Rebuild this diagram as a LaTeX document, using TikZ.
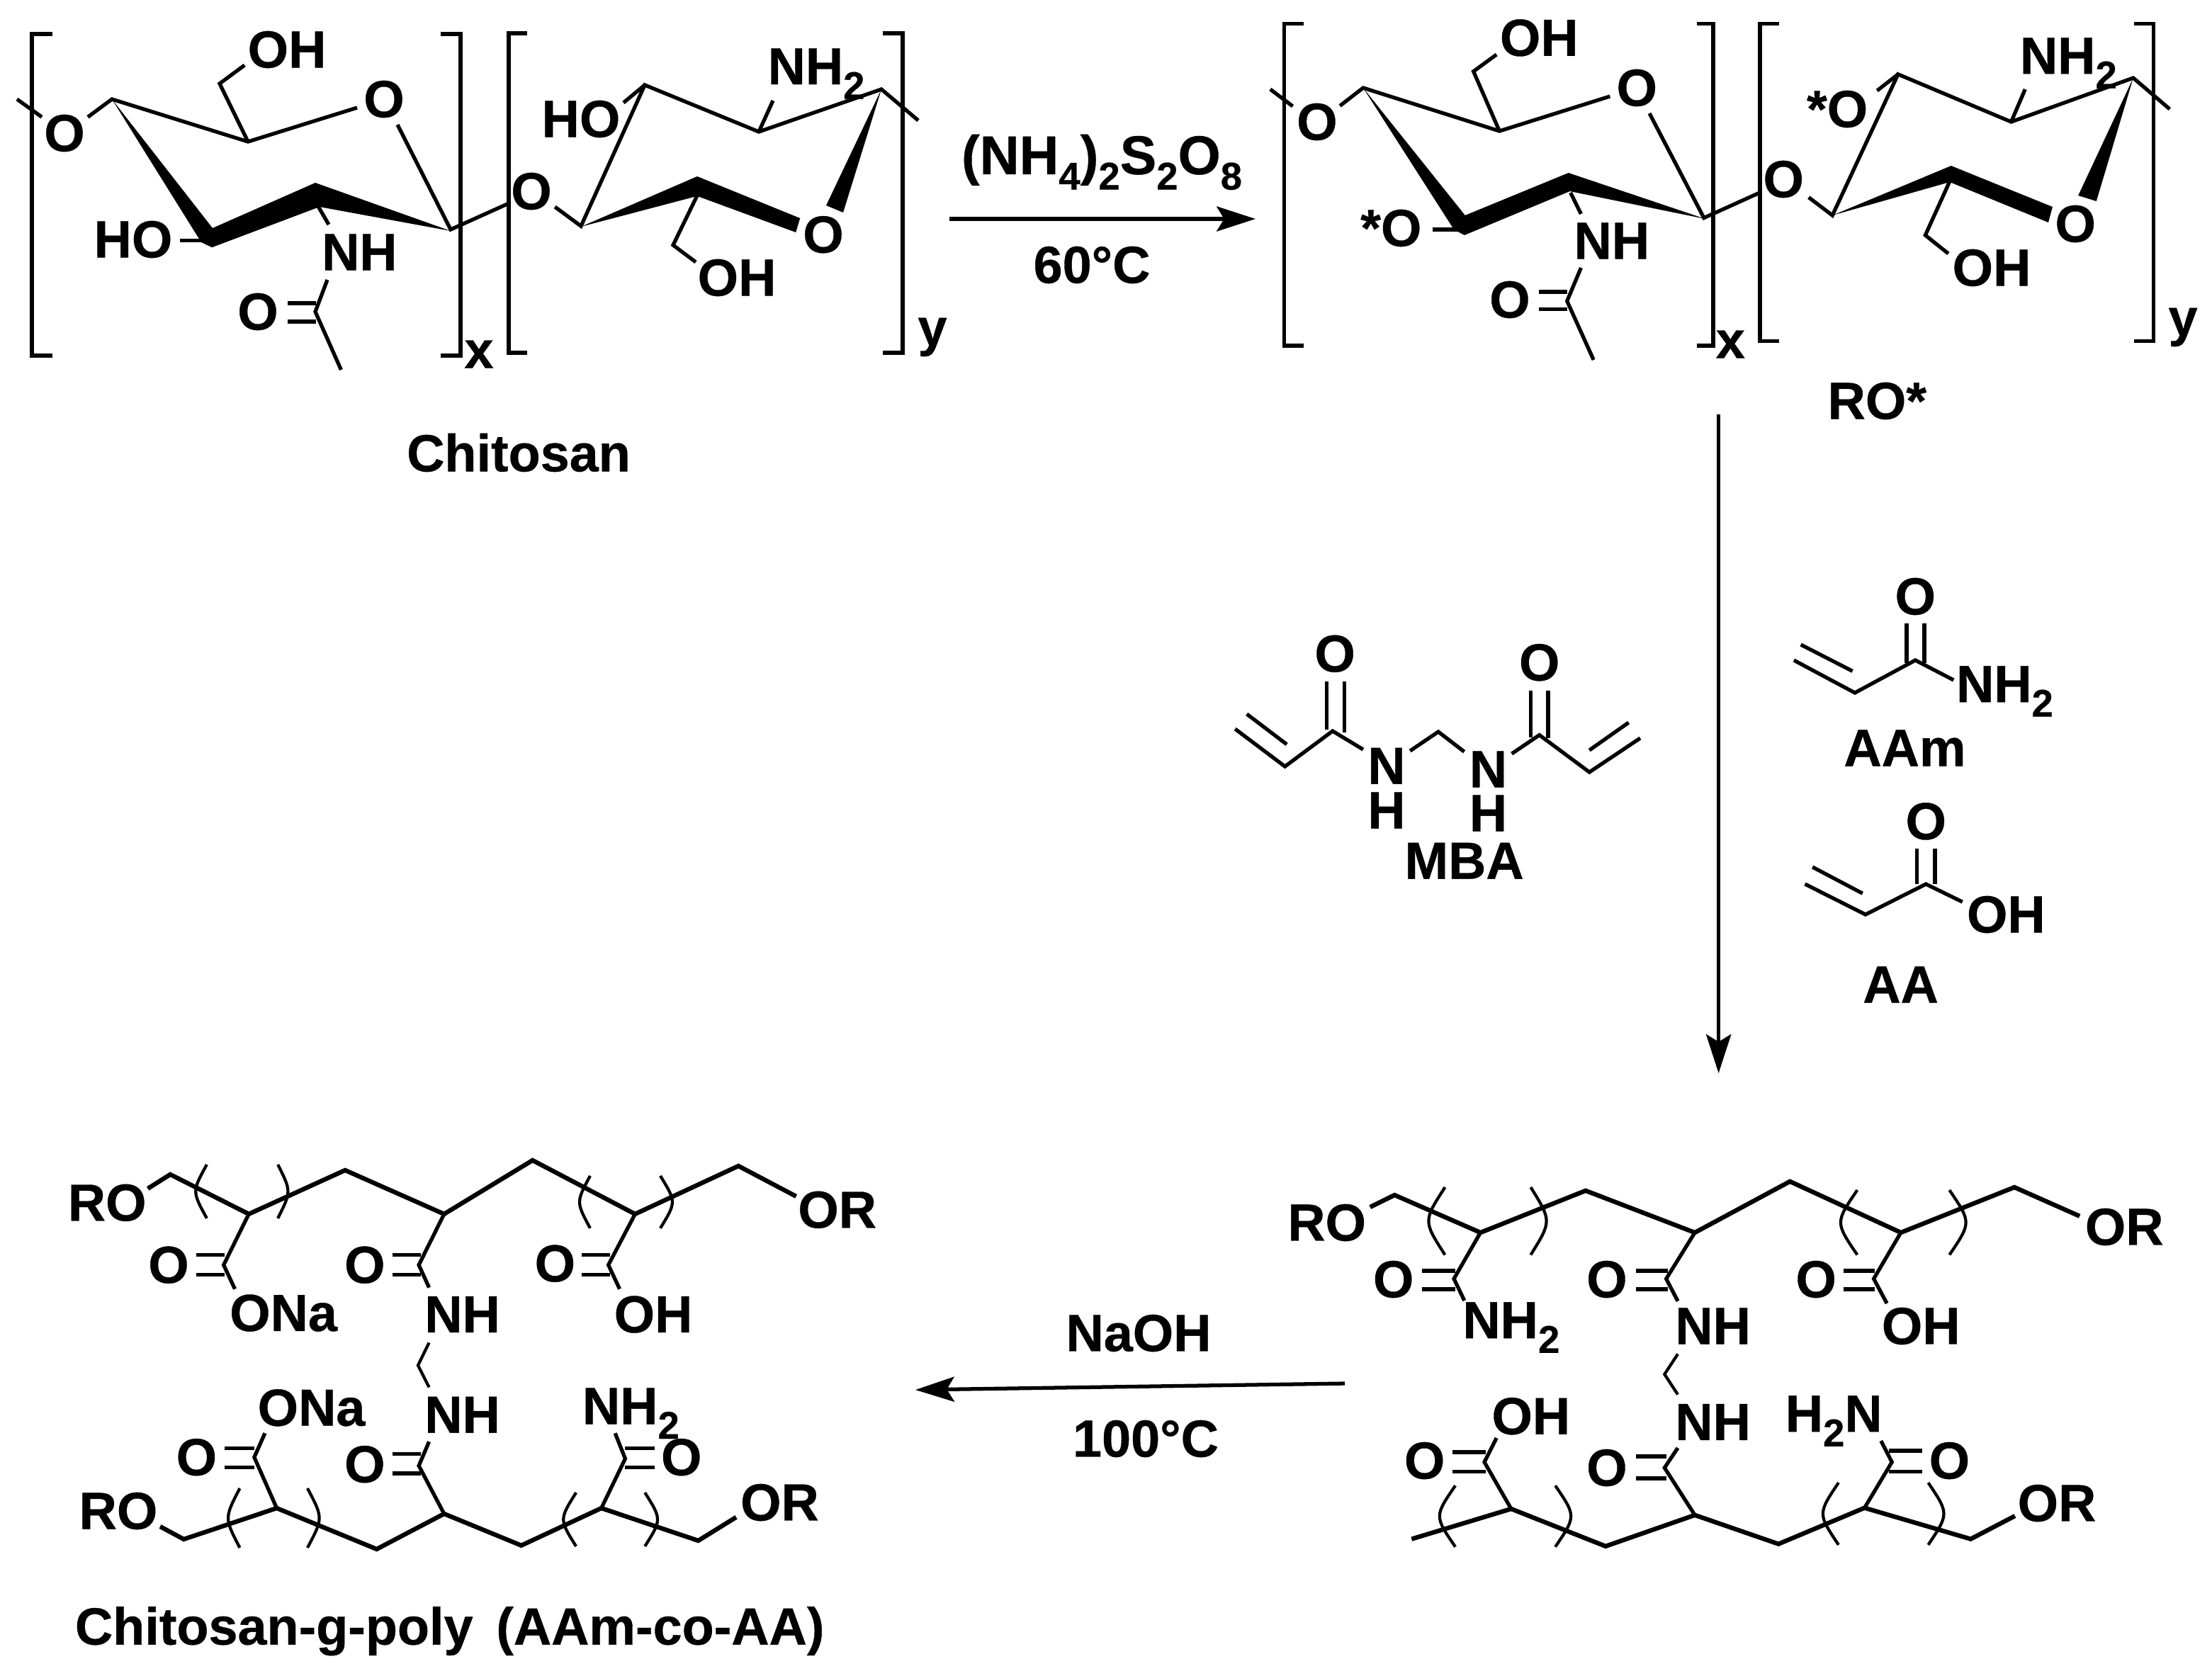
\documentclass[tikz,border=0pt]{standalone}
\usepackage{fontspec}
\setmainfont{Liberation Sans}[BoldFeatures={FakeBold=0.5}]
\usetikzlibrary{arrows.meta}
\newcommand{\sbs}[1]{\raisebox{-0.28em}{\fontsize{15.5}{15.5}\selectfont #1}}
\tikzset{
  atom/.style={inner sep=0pt,font=\fontsize{21}{23}\selectfont\bfseries},
  bond/.style={line width=1.5pt,line join=miter},
  chain/.style={line width=1.8pt,line join=miter},
  thin bond/.style={line width=1.2pt},
  brk/.style={line width=1.6pt,line join=miter},
  wedge/.style={fill=black,draw=none},
  rxn/.style={line width=1.5pt,-{Stealth[length=15.6pt,width=10pt,inset=3pt]}},
}
\newcommand{\prn}[4]{\draw[thin bond] (#1,#2) .. controls (#3,{(#2+#4)/2}) .. (#1,#4);}
\begin{document}
\begin{tikzpicture}[x=0.02cm,y=-0.02cm]
\useasboundingbox (0,0) rectangle (1561,1182.5);
\fill[white] (0,0) rectangle (1561,1182.5);
%% ---------- Chitosan
\draw[brk] (37,24)--(22.5,24)--(22.5,251)--(37,251);
\draw[brk] (311,24)--(325,24)--(325,251)--(311,251);
\draw[brk] (372,23.5)--(359,23.5)--(359,249)--(372,249);
\draw[brk] (623,23.5)--(637,23.5)--(637,249)--(623,249);
\node[atom] (cx) at (338,250) {x};
\node[atom] (cy) at (658,238) {y};
\draw[bond] (12,70)--(29.5,82.6);
\node[atom] (cO1) at (45.5,94) {O};
\draw[bond] (62,82.6)--(79,70)--(175,100)--(252,76);
\node[atom] (cOr) at (271,70) {O};
\draw[bond] (280.5,88)--(318,162)--(358,144);
\draw[wedge] (79,70)--(150,161)--(222.5,129)--(318,163)--(225.5,146)--(149.6,174.6)--(142,171)--cycle;
\draw[bond] (175,100)--(155,59)--(172.6,46);
\node[atom] (cOH1) at (202.5,35) {OH};
\node[atom] (cHO1) at (94,169) {HO};
\draw[bond] (127,169.6)--(147.4,169.6);
\draw[bond] (223,143)--(232,158.5);
\node[atom] (cNH) at (253.7,178) {NH};
\draw[bond] (231,197.5)--(222.5,220)--(240.7,261);
\draw[bond] (203,214)--(223,214) (203,227)--(223,227);
\node[atom] (cO3) at (182,220) {O};
\node[atom] (cO2) at (375,135) {O};
\draw[bond] (391.6,146)--(410,159.6)--(455,60)--(535.5,93)--(622,63)--(648,85);
\node[atom] (cHO2) at (410,84) {HO};
\draw[bond] (440,72.5)--(455,60);
\draw[bond] (535.5,93)--(545.5,71);
\node[atom] (cNH2) at (576,52) {NH\sbs{2}};
\draw[wedge] (622,63)--(595,150)--(583,145)--cycle;
\node[atom] (cO4) at (581,165.6) {O};
\draw[wedge] (410,160)--(492,124.5)--(564.6,154)--(561.6,164)--(492,138.4)--cycle;
\draw[bond] (492,138)--(475,173)--(491,185);
\node[atom] (cOH2) at (520,196) {OH};
\node[atom] (chit) at (366,319.5) {Chitosan};
%% ---------- RO* and right polymer
\begin{scope}[shift={(12.82,0)},xscale=0.9856]
\draw[brk] (920.4,16.8)--(906.5,16.8)--(906.5,244)--(920.4,244);
\draw[brk] (1201.8,16.8)--(1213.5,16.8)--(1213.5,244)--(1201.8,244);
\draw[brk] (1261,16.8)--(1247,16.8)--(1247,240.7)--(1261,240.7);
\draw[brk] (1515,16.8)--(1529,16.8)--(1529,240.7)--(1515,240.7);
\node[atom] (rx) at (1226,243) {x};
\node[atom] (ry) at (1550,231) {y};
\draw[bond] (896.5,63)--(912.6,75);
\node[atom] (rO1) at (930,86) {O};
\draw[bond] (946.4,74.7)--(963,62)--(1060.6,92.5)--(1139.7,68);
\node[atom] (rOr) at (1159,62) {O};
\draw[bond] (1168,80)--(1207,153.8)--(1246,136.4);
\draw[wedge] (963,62)--(1036,152)--(1110,122)--(1208,154.5)--(1111,135)--(1035.5,166)--(1028,162)--cycle;
\draw[bond] (1060.6,92.5)--(1042,50.4)--(1058.5,38.5);
\node[atom] (rOH1) at (1089,26.7) {OH};
\node[atom] (rsO1) at (983,161) {*O};
\draw[bond] (1013,162)--(1033,162);
\draw[bond] (1111.5,136)--(1119,151);
\node[atom] (rNH) at (1141,170) {NH};
\draw[bond] (1119,189)--(1109,212.5)--(1128,254);
\draw[bond] (1089,206)--(1109,206) (1089,218.4)--(1109,218.4);
\node[atom] (rO3) at (1068,211.5) {O};
\node[atom] (rO2) at (1264,126.5) {O};
\draw[bond] (1282,139.3)--(1299,152)--(1346,52.4)--(1427,86)--(1514.4,55)--(1540.5,77);
\node[atom] (rsO2) at (1302.5,77) {*O};
\draw[bond] (1331,64)--(1346,52.4);
\draw[bond] (1427,86)--(1437,63);
\node[atom] (rNH2) at (1468,44.5) {NH\sbs{2}};
\draw[wedge] (1514.4,55)--(1488,142)--(1475,138)--cycle;
\node[atom] (rO4) at (1473,158) {O};
\draw[wedge] (1299,152)--(1384,117)--(1456.6,146)--(1453.6,157)--(1383,128.5)--cycle;
\draw[bond] (1383,128)--(1365.5,166)--(1382,179);
\node[atom] (rOH2) at (1413,189) {OH};
\node[atom] (ro) at (1331,283) {RO*};
%% ---------- Right polymer
\draw[chain] (968,852)--(985.5,843.5)--(1047,870)--(1122.3,840.4)--(1200.5,870)--(1268.6,833.9)--(1348,870)--(1429.3,838)--(1476,858.4);
\node[atom] (pRO1) at (937,863) {RO};
\node[atom] (pOR1) at (1508,866) {OR};
\prn{1021.6}{838}{1006}{885.7}
\prn{1083}{838}{1098}{885.7}
\prn{1316.8}{840}{1301}{885.7}
\prn{1382.8}{840}{1398.5}{885.7}
\draw[bond] (1047,870)--(1028,902.6)--(1035.5,918);
\draw[bond] (1005,897)--(1029,897) (1005,910)--(1029,910);
\node[atom] (pO1) at (984.7,903) {O};
\node[atom] (pNH2a) at (1069,937) {NH\sbs{2}};
\draw[bond] (1200.5,870)--(1180,902.6)--(1188.3,918.4);
\draw[bond] (1158.3,897)--(1181,897) (1158.3,910)--(1181,910);
\node[atom] (pO2) at (1137.5,903) {O};
\node[atom] (pNH1) at (1213.5,936) {NH};
\draw[bond] (1348,870)--(1328.6,902.6)--(1338,920);
\draw[bond] (1306.8,897)--(1329.4,897) (1306.8,910)--(1329.4,910);
\node[atom] (pO3) at (1287.3,903) {O};
\node[atom] (pOH1) at (1362.4,936) {OH};
\draw[thin bond] (1188.3,955.7)--(1178.8,970)--(1188.3,984.3);
\node[atom] (pNH3) at (1213.5,1003.7) {NH};
\node[atom] (pH2N) at (1300,1003) {H\sbs{2}N};
\node[atom] (pOH2) at (1083.2,999.6) {OH};
\draw[chain] (997.7,1086.3)--(1069,1065)--(1136.6,1091.4)--(1200.5,1069.4)--(1260.4,1089.8)--(1322,1064.3)--(1398,1086.3)--(1429.7,1070);
\node[atom] (pOR2) at (1459.7,1061) {OR};
\prn{1029}{1048.6}{1014}{1091.8}
\prn{1100.6}{1048.6}{1115.5}{1091.8}
\prn{1303.4}{1046.5}{1288.5}{1090.4}
\prn{1367.6}{1046.5}{1382.5}{1090.4}
\draw[bond] (1069,1065)--(1049.8,1032)--(1058.5,1015);
\draw[bond] (1026.8,1025)--(1050.7,1025) (1026.8,1038.8)--(1050.7,1038.8);
\node[atom] (pO4) at (1007,1031) {O};
\draw[bond] (1200.5,1069.4)--(1178.8,1036)--(1188.3,1022);
\draw[bond] (1158.3,1028)--(1180,1028) (1158.3,1043.5)--(1180,1043.5);
\node[atom] (pO5) at (1137.5,1036) {O};
\draw[bond] (1322,1064.3)--(1341.6,1032)--(1333.8,1017);
\draw[bond] (1339.4,1024)--(1363.3,1024) (1339.4,1038.8)--(1363.3,1038.8);
\node[atom] (pO6) at (1382.8,1031) {O};
\end{scope}
%% ---------- Monomers
\begin{scope}[shift={(12.33,0)},xscale=0.9855]
\draw[bond] (871.9,514.5)--(907.6,541)--(941.7,516)--(963.6,529);
\draw[bond] (880.3,504)--(908.9,525.4);
\draw[bond] (937.5,481)--(937.5,515) (950.1,481)--(950.1,517);
\node[atom] (mO1) at (943.4,461.4) {O};
\node[atom] (mN1) at (980.4,540.6) {N};
\node[atom] (mH1) at (980.4,572) {H};
\draw[bond] (997.2,530)--(1017.4,516.5)--(1036,530.6);
\node[atom] (mN2) at (1053.2,543) {N};
\node[atom] (mH2) at (1053.2,574) {H};
\draw[bond] (1070,532)--(1089.8,518.8)--(1125.6,545)--(1162,521);
\draw[bond] (1125.6,529.5)--(1153.7,510);
\draw[bond] (1083.5,487.5)--(1083.5,520.5) (1096,487.5)--(1096,521);
\node[atom] (mO2) at (1089.8,467.6) {O};
\node[atom] (mba) at (1036,607.6) {MBA};
\draw[bond] (1272,466)--(1315.7,489)--(1359,466)--(1386.4,480);
\draw[bond] (1277,455)--(1314,473.7);
\draw[bond] (1352.7,440)--(1352.7,468) (1365.4,440)--(1365.4,468);
\node[atom] (aO) at (1359,421) {O};
\node[atom] (aNH2) at (1423,488) {NH\sbs{2}};
\node[atom] (aam) at (1351.5,528) {AAm};
\draw[bond] (1280,624)--(1323.3,645.5)--(1366.6,624)--(1392.7,636.6);
\draw[bond] (1285.4,612)--(1321.2,630.6);
\draw[bond] (1360.3,599)--(1360.3,624) (1373,599)--(1373,624);
\node[atom] (bO) at (1366.6,579.7) {O};
\node[atom] (bOH) at (1424,645.5) {OH};
\node[atom] (aa) at (1348.5,695) {AA};
\end{scope}
%% ---------- Left polymer
\begin{scope}[shift={(0.27,-1.37)},xscale=0.9909,yscale=0.998]
\draw[chain] (105,842)--(121,832)--(176.9,860)--(245.5,829)--(316,860)--(379,822)--(452,860)--(525.6,826)--(566.7,847.5);
\node[atom] (qRO1) at (76,852) {RO};
\node[atom] (qOR1) at (596,857) {OR};
\prn{147}{825}{136.5}{863}
\prn{197.6}{825}{207.2}{863}
\prn{420}{833}{410}{870}
\prn{470}{833}{481.4}{870}
\draw[bond] (176.9,860)--(159,896)--(167,913);
\draw[bond] (139.7,889)--(159.7,889) (139.7,903)--(159.7,903);
\node[atom] (qO1) at (119.8,896) {O};
\node[atom] (qONa1) at (201.6,930) {ONa};
\draw[bond] (316,860)--(298,896)--(305.3,912);
\draw[bond] (279.4,889)--(299.4,889) (279.4,903)--(299.4,903);
\node[atom] (qO2) at (259.5,896) {O};
\node[atom] (qNH1) at (329,931) {NH};
\draw[bond] (452,860)--(433,896)--(441,913);
\draw[bond] (414,889)--(434,889) (414,903)--(434,903);
\node[atom] (qO3) at (395,895) {O};
\node[atom] (qOH1) at (465,931) {OH};
\draw[thin bond] (305.3,951)--(297.4,967)--(305.3,982.5);
\node[atom] (qNH2) at (329,1002) {NH};
\node[atom] (qONa2) at (221.5,997) {ONa};
\node[atom] (qNH3) at (449,1001) {NH\sbs{2}};
\draw[chain] (113.8,1081)--(130.6,1090)--(196.8,1068)--(268,1097)--(316,1072)--(371,1094.4)--(428,1068)--(497,1091)--(524,1074.4);
\node[atom] (qRO2) at (84,1070) {RO};
\node[atom] (qOR2) at (555,1064) {OR};
\prn{170.5}{1054}{159.5}{1096}
\prn{218.7}{1054}{229.9}{1096}
\prn{410}{1057}{398}{1095}
\prn{459}{1057}{471}{1095}
\draw[bond] (196.8,1068)--(180.8,1032)--(188.4,1015);
\draw[bond] (159.7,1025.6)--(180.8,1025.6) (159.7,1039)--(180.8,1039);
\node[atom] (qO4) at (139.7,1032) {O};
\draw[bond] (316,1072)--(298,1038)--(305.3,1021);
\draw[bond] (279.4,1029.7)--(299.4,1029.7) (279.4,1043.5)--(299.4,1043.5);
\node[atom] (qO5) at (259.5,1037) {O};
\draw[bond] (428,1068)--(445,1033)--(437.8,1015);
\draw[bond] (445,1025.6)--(465.8,1025.6) (445,1039)--(465.8,1039);
\node[atom] (qO6) at (485,1032) {O};
\node[atom] (title) at (320,1155) {Chitosan-g-poly\, (AAm-co-AA)};
\end{scope}
%% ---------- Arrows and their labels
\coordinate (a1s) at (670,154.5); \coordinate (a1e) at (886,154.5);
\draw[rxn] (a1s)--(a1e);
\node[atom,font=\fontsize{22}{24}\selectfont\bfseries] (r1t) at (777.5,114.5) {(NH\sbs{4})\sbs{2}S\sbs{2}O\sbs{8}};
\node[atom] (r1b) at (770.5,187) {60\textdegree C};
\coordinate (a2s) at (1212.8,292.5); \coordinate (a2e) at (1212.8,757.5);
\draw[rxn] (a2s)--(a2e);
\coordinate (a3s) at (949,976.5); \coordinate (a3e) at (646,981);
\draw[rxn] (a3s)--(a3e);
\node[atom] (r2t) at (803.5,941) {NaOH};
\node[atom] (r2b) at (808.5,1015.5) {100\textdegree C};
\end{tikzpicture}
\end{document}
